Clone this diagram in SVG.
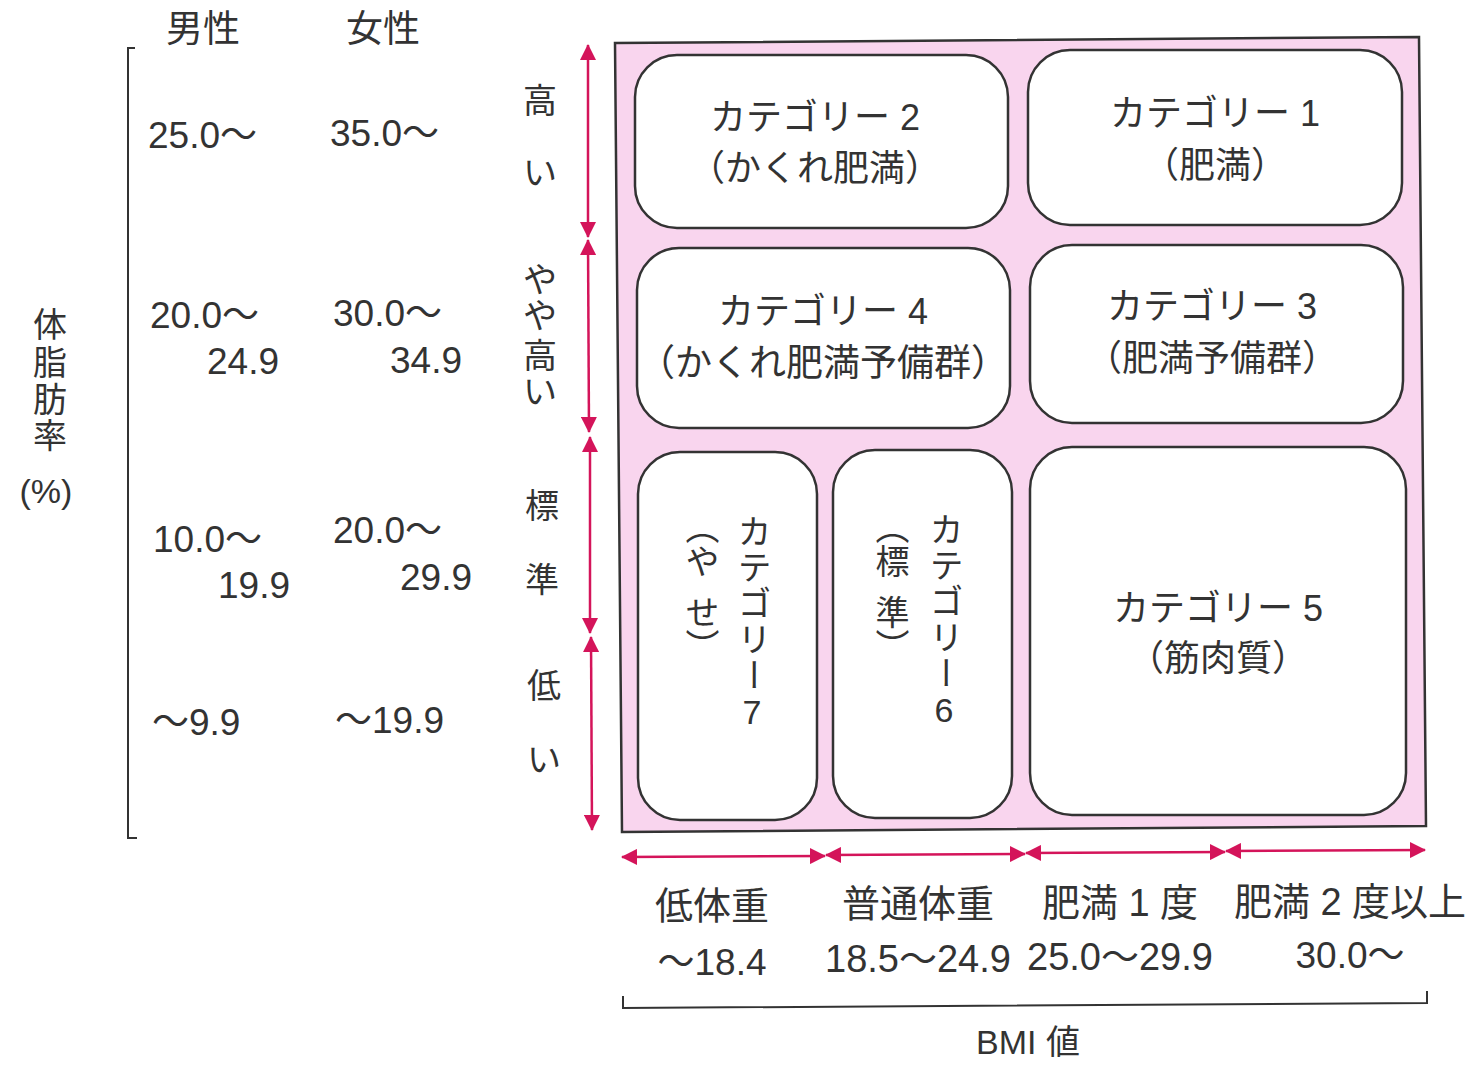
<svg xmlns="http://www.w3.org/2000/svg" width="1472" height="1065" viewBox="0 0 1472 1065">
<defs>
<style>
.t{font-family:"Liberation Sans","Noto Sans CJK JP",sans-serif;fill:#333;font-size:34px}
.n{font-size:37px}
.k{font-size:36px}
.b{font-size:38px}
.c{text-anchor:middle}
.v{writing-mode:vertical-rl}
.box{fill:#fff;stroke:#333;stroke-width:2.5}
.arr{stroke:#d4145a;stroke-width:2.5;fill:none;marker-start:url(#ah);marker-end:url(#ah)}
.br{fill:none;stroke:#333;stroke-width:2}
</style>
<marker id="ah" markerUnits="userSpaceOnUse" markerWidth="16" markerHeight="16" refX="15" refY="8" orient="auto-start-reverse">
<path d="M0,0 L16,8 L0,16 z" fill="#d4145a"/>
</marker>
</defs>
<rect width="1472" height="1065" fill="#fff"/>

<g id="left-axis">
<path class="br" d="M135,48 H128 V838 H137"/>
<text class="t c n" x="203" y="42">男性</text>
<text class="t c n" x="383" y="42">女性</text>
<text class="t n" x="148" y="148">25.0～</text>
<text class="t n" x="330" y="146">35.0～</text>
<text class="t n" x="150" y="328">20.0～</text>
<text class="t n" x="207" y="374">24.9</text>
<text class="t n" x="333" y="326">30.0～</text>
<text class="t n" x="390" y="373">34.9</text>
<text class="t n" x="153" y="552">10.0～</text>
<text class="t n" x="218" y="598">19.9</text>
<text class="t n" x="333" y="543">20.0～</text>
<text class="t n" x="400" y="590">29.9</text>
<text class="t n" x="152" y="735">～9.9</text>
<text class="t n" x="335" y="733">～19.9</text>
<text class="t c" x="50" y="337">体</text>
<text class="t c" x="50" y="375">脂</text>
<text class="t c" x="50" y="412">肪</text>
<text class="t c" x="50" y="448">率</text>
<text class="t c" x="46" y="503">(%)</text>
</g>

<g id="level-labels">
<text class="t c" x="540" y="113">高</text>
<text class="t c" x="540" y="185">い</text>
<text class="t c" x="540" y="292">や</text>
<text class="t c" x="540" y="328">や</text>
<text class="t c" x="540" y="368">高</text>
<text class="t c" x="540" y="404">い</text>
<text class="t c" x="542" y="518">標</text>
<text class="t c" x="542" y="592">準</text>
<text class="t c" x="544" y="698">低</text>
<text class="t c" x="544" y="772">い</text>
</g>

<g id="frame">
<polygon points="615,43 1419,37 1426,826 622,832" fill="#f9d5ee" stroke="#333" stroke-width="2.5"/>
</g>

<g id="cat2">
<rect class="box" x="635" y="55" width="373" height="173" rx="42"/>
<text class="t c k" x="815" y="130">カテゴリー 2</text>
<text class="t c k" x="815" y="181">（かくれ肥満）</text>
</g>
<g id="cat1">
<rect class="box" x="1028" y="50" width="374" height="175" rx="42"/>
<text class="t c k" x="1215" y="126">カテゴリー 1</text>
<text class="t c k" x="1215" y="178">（肥満）</text>
</g>
<g id="cat4">
<rect class="box" x="637" y="248" width="373" height="180" rx="42"/>
<text class="t c k" x="823" y="324">カテゴリー 4</text>
<text class="t c n" x="823" y="376">（かくれ肥満予備群）</text>
</g>
<g id="cat3">
<rect class="box" x="1030" y="245" width="373" height="178" rx="42"/>
<text class="t c k" x="1212" y="319">カテゴリー 3</text>
<text class="t c k" x="1212" y="371">（肥満予備群）</text>
</g>
<g id="cat7">
<rect class="box" x="638" y="452" width="179" height="368" rx="42"/>
<text class="t v" x="752" y="514" letter-spacing="2">カテゴリー</text>
<text class="t c" x="752" y="724">7</text>
<text class="t v" x="700" y="510">（や<tspan y="595">せ）</tspan></text>
</g>
<g id="cat6">
<rect class="box" x="833" y="450" width="179" height="368" rx="42"/>
<text class="t v" x="944" y="512" letter-spacing="2">カテゴリー</text>
<text class="t c" x="944" y="722">6</text>
<text class="t v" x="890" y="510">（標<tspan y="595">準）</tspan></text>
</g>
<g id="cat5">
<rect class="box" x="1030" y="447" width="376" height="368" rx="42"/>
<text class="t c k" x="1218" y="621">カテゴリー 5</text>
<text class="t c k" x="1218" y="671">（筋肉質）</text>
</g>

<g id="connectors">
<line class="arr" x1="588" y1="45" x2="588" y2="237"/>
<line class="arr" x1="588" y1="240" x2="589" y2="432"/>
<line class="arr" x1="590" y1="437" x2="590" y2="633"/>
<line class="arr" x1="591" y1="637" x2="592" y2="830"/>
<line class="arr" x1="622" y1="857" x2="825" y2="856"/>
<line class="arr" x1="826" y1="855" x2="1025" y2="854"/>
<line class="arr" x1="1026" y1="853" x2="1225" y2="852"/>
<line class="arr" x1="1226" y1="851" x2="1425" y2="850"/>
</g>

<g id="bmi-axis">
<text class="t c b" x="712" y="919">低体重</text>
<text class="t c n" x="712" y="975">～18.4</text>
<text class="t c b" x="918" y="917">普通体重</text>
<text class="t c b" x="918" y="972">18.5～24.9</text>
<text class="t c b" x="1120" y="916">肥満 1 度</text>
<text class="t c b" x="1120" y="970">25.0～29.9</text>
<text class="t c b" x="1350" y="915">肥満 2 度以上</text>
<text class="t c n" x="1350" y="968">30.0～</text>
<path class="br" d="M623,996 V1008 L1427,1003 V991"/>
<text class="t c" x="1028" y="1054">BMI 値</text>
</g>
</svg>
